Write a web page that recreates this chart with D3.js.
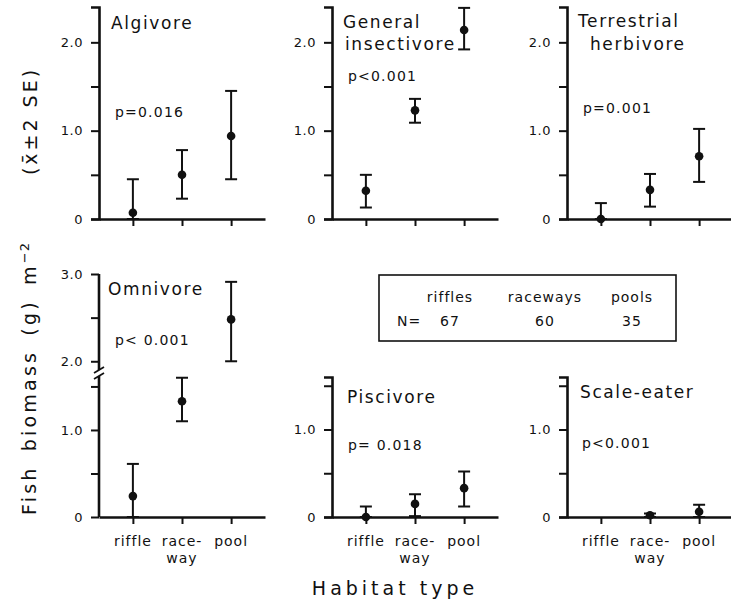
<!DOCTYPE html>
<html>
<head>
<meta charset="utf-8">
<script src="https://cdn.jsdelivr.net/npm/d3@7"></script>
<style>
  body { margin: 0; background: #fff; }
  svg text { font-family: "DejaVu Sans", sans-serif; fill: #111; }
</style>
</head>
<body>
<div id="chart"></div>
<script>
// habitat categories and per-guild values (mean, +2SE, -2SE)
const habitats = ["riffle", "raceway", "pool"];
const habitatLabels = [["riffle"], ["race-", "way"], ["pool"]];
const guilds = ["Algivore", "General insectivore", "Terrestrial herbivore", "Omnivore", "Piscivore", "Scale-eater"];
const guildTitles = [["Algivore"], ["General", "insectivore"], ["Terrestrial", "herbivore"], ["Omnivore"], ["Piscivore"], ["Scale-eater"]];
const pLabels = ["p=0.016", "p<0.001", "p=0.001", "p< 0.001", "p= 0.018", "p<0.001"];

const meanValues = [
  [0.07, 0.50, 0.94],
  [0.32, 1.23, 2.14],
  [0.00, 0.33, 0.71],
  [0.24, 1.33, 2.48],
  [0.00, 0.15, 0.33],
  [null, 0.02, 0.06]
];
const upperValues = [
  [0.45, 0.78, 1.45],
  [0.50, 1.36, 2.39],
  [0.18, 0.51, 1.02],
  [0.61, 1.60, 2.91],
  [0.12, 0.26, 0.52],
  [null, 0.04, 0.14]
];
const lowerValues = [
  [0.00, 0.23, 0.45],
  [0.13, 1.09, 1.92],
  [0.00, 0.14, 0.42],
  [0.00, 1.10, 2.00],
  [0.00, 0.01, 0.12],
  [null, 0.00, 0.00]
];

const legendCols = ["riffles", "raceways", "pools"];
const sampleSizes = [67, 60, 35];

const topTicks = [0, 0.5, 1, 1.5, 2];
const omniTicks = [0, 0.5, 1, 1.5, 2, 2.5, 3];
const lowTicks = [0, 0.5, 1, 1.5];

const width = 731, height = 599;
const axisLen = 166;

const svg = d3.select("#chart").append("svg")
  .attr("width", width)
  .attr("height", height);

// layout of the six panels
const panels = [
  {left: 99,  zero: 219, top: 7,   max: 2.4, ticks: topTicks,  titleDx: [12], titleY: [29], pX: 115, pY: 117},
  {left: 332, zero: 219, top: 7,   max: 2.4, ticks: topTicks,  titleDx: [11, 13], titleY: [28, 50], pX: 348, pY: 81},
  {left: 567, zero: 219, top: 7,   max: 2.4, ticks: topTicks,  titleDx: [11, 23], titleY: [27, 50], pX: 583, pY: 113},
  {left: 99,  zero: 517, top: 274, max: 3.0, ticks: omniTicks, titleDx: [9],  titleY: [295], pX: 115, pY: 345, broken: true},
  {left: 332, zero: 517, top: 377, max: 1.6, ticks: lowTicks,  titleDx: [15], titleY: [403], pX: 348, pY: 450},
  {left: 567, zero: 517, top: 377, max: 1.6, ticks: lowTicks,  titleDx: [13], titleY: [398], pX: 582, pY: 448}
];

const fmt = d => d === 0 ? "0" : (d % 1 === 0 ? d.toFixed(1) : "");

panels.forEach((p, i) => {
  const g = svg.append("g");
  let y;
  if (p.broken) {
    // broken axis: 0..1.62 below the break, 1.9..3.0 above
    y = d3.scaleLinear().domain([0, 1.62, 1.9, 3.0]).range([p.zero, 376, 370, p.top]);
  } else {
    y = d3.scaleLinear().domain([0, p.max]).range([p.zero, p.top]);
  }
  const x = d3.scalePoint().domain(habitats).range([p.left, p.left + axisLen]).padding(0.69);

  // y axis
  const yAxis = g.append("g")
    .attr("transform", `translate(${p.left},0)`)
    .call(d3.axisLeft(y).tickValues(p.ticks).tickFormat(fmt).tickSize(8).tickSizeOuter(p.broken ? 0 : 8).tickPadding(8));
  yAxis.selectAll("text").attr("font-size", 13).attr("letter-spacing", 0.5);
  yAxis.selectAll("line").attr("stroke", "#111").attr("stroke-width", 2);
  yAxis.select(".domain").attr("stroke", "#111").attr("stroke-width", 2.6);
  if (p.broken) {
    yAxis.select(".domain").remove();
    [[0, 1.62], [1.9, 3.0]].forEach(seg => {
      g.append("line")
        .attr("x1", p.left).attr("x2", p.left)
        .attr("y1", y(seg[0])).attr("y2", y(seg[1]))
        .attr("stroke", "#111").attr("stroke-width", 2.6);
    });
    [-3, 3].forEach(o => {
      g.append("line")
        .attr("x1", p.left - 5).attr("x2", p.left + 5)
        .attr("y1", 373 + o + 3).attr("y2", 373 + o - 3)
        .attr("stroke", "#111").attr("stroke-width", 1.8);
    });
  }

  // x axis
  const xAxis = g.append("g")
    .attr("transform", `translate(0,${p.zero})`)
    .call(d3.axisBottom(x).tickSize(7).tickSizeOuter(0).tickFormat(""));
  xAxis.select(".domain").attr("stroke", "#111").attr("stroke-width", 2.6);
  xAxis.selectAll("line").attr("stroke", "#111").attr("stroke-width", 2);

  if (i >= 3) {
    habitats.forEach((h, k) => {
      habitatLabels[k].forEach((line, j) => {
        g.append("text")
          .attr("x", x(h))
          .attr("y", 546 + j * 17)
          .attr("text-anchor", "middle")
          .attr("font-size", 14)
          .attr("letter-spacing", 1)
          .text(line);
      });
    });
  }

  // error bars and means
  const pts = habitats.map((h, k) => ({
    h: h, m: meanValues[i][k], lo: lowerValues[i][k], hi: upperValues[i][k]
  })).filter(d => d.m !== null);

  const bars = g.selectAll(".bar").data(pts).enter().append("g");
  bars.append("line")
    .attr("x1", d => x(d.h)).attr("x2", d => x(d.h))
    .attr("y1", d => y(d.lo)).attr("y2", d => y(d.hi))
    .attr("stroke", "#111").attr("stroke-width", 2);
  bars.append("line")
    .attr("x1", d => x(d.h) - 6).attr("x2", d => x(d.h) + 6)
    .attr("y1", d => y(d.hi)).attr("y2", d => y(d.hi))
    .attr("stroke", "#111").attr("stroke-width", 2);
  bars.append("line")
    .attr("x1", d => x(d.h) - 6).attr("x2", d => x(d.h) + 6)
    .attr("y1", d => y(d.lo)).attr("y2", d => y(d.lo))
    .attr("stroke", "#111").attr("stroke-width", 2);
  bars.append("circle")
    .attr("cx", d => x(d.h)).attr("cy", d => y(d.m))
    .attr("r", 4.3)
    .attr("fill", "#111");

  // titles and p values
  guildTitles[i].forEach((line, j) => {
    g.append("text")
      .attr("x", p.left + p.titleDx[j])
      .attr("y", p.titleY[j])
      .attr("font-size", 17)
      .attr("letter-spacing", 1.6)
      .text(line);
  });
  g.append("text")
    .attr("x", p.pX)
    .attr("y", p.pY)
    .attr("font-size", 14)
    .attr("letter-spacing", 1.2)
    .text(pLabels[i]);
});

// legend box with sample sizes
const legend = svg.append("g");
legend.append("rect")
  .attr("x", 379).attr("y", 275)
  .attr("width", 297).attr("height", 66)
  .attr("fill", "none").attr("stroke", "#111").attr("stroke-width", 1.6);
const legX = d3.scalePoint().domain(legendCols).range([450, 632]);
legendCols.forEach((c, k) => {
  const cx = k === 1 ? 545 : legX(c);
  legend.append("text").attr("x", cx).attr("y", 302)
    .attr("text-anchor", "middle").attr("font-size", 14).attr("letter-spacing", 1)
    .text(c);
  legend.append("text").attr("x", cx).attr("y", 326)
    .attr("text-anchor", "middle").attr("font-size", 14).attr("letter-spacing", 1)
    .text(sampleSizes[k]);
});
legend.append("text").attr("x", 397).attr("y", 326)
  .attr("font-size", 14).attr("letter-spacing", 1)
  .text("N=");

// axis titles
svg.append("text")
  .attr("transform", "translate(36,515) rotate(-90)")
  .attr("font-size", 19)
  .attr("letter-spacing", 3.2)
  .attr("word-spacing", 5)
  .text("Fish biomass (g) m")
  .append("tspan")
  .attr("baseline-shift", "super")
  .attr("font-size", 13)
  .attr("letter-spacing", 1)
  .text("\u22122");

svg.append("text")
  .attr("transform", "translate(37,121) rotate(-90)")
  .attr("text-anchor", "middle")
  .attr("font-size", 19)
  .attr("letter-spacing", 3)
  .text("(x\u0304\u00b12 SE)");

svg.append("text")
  .attr("x", 395).attr("y", 595)
  .attr("text-anchor", "middle")
  .attr("font-size", 19)
  .attr("letter-spacing", 4)
  .text("Habitat type");
</script>
</body>
</html>
